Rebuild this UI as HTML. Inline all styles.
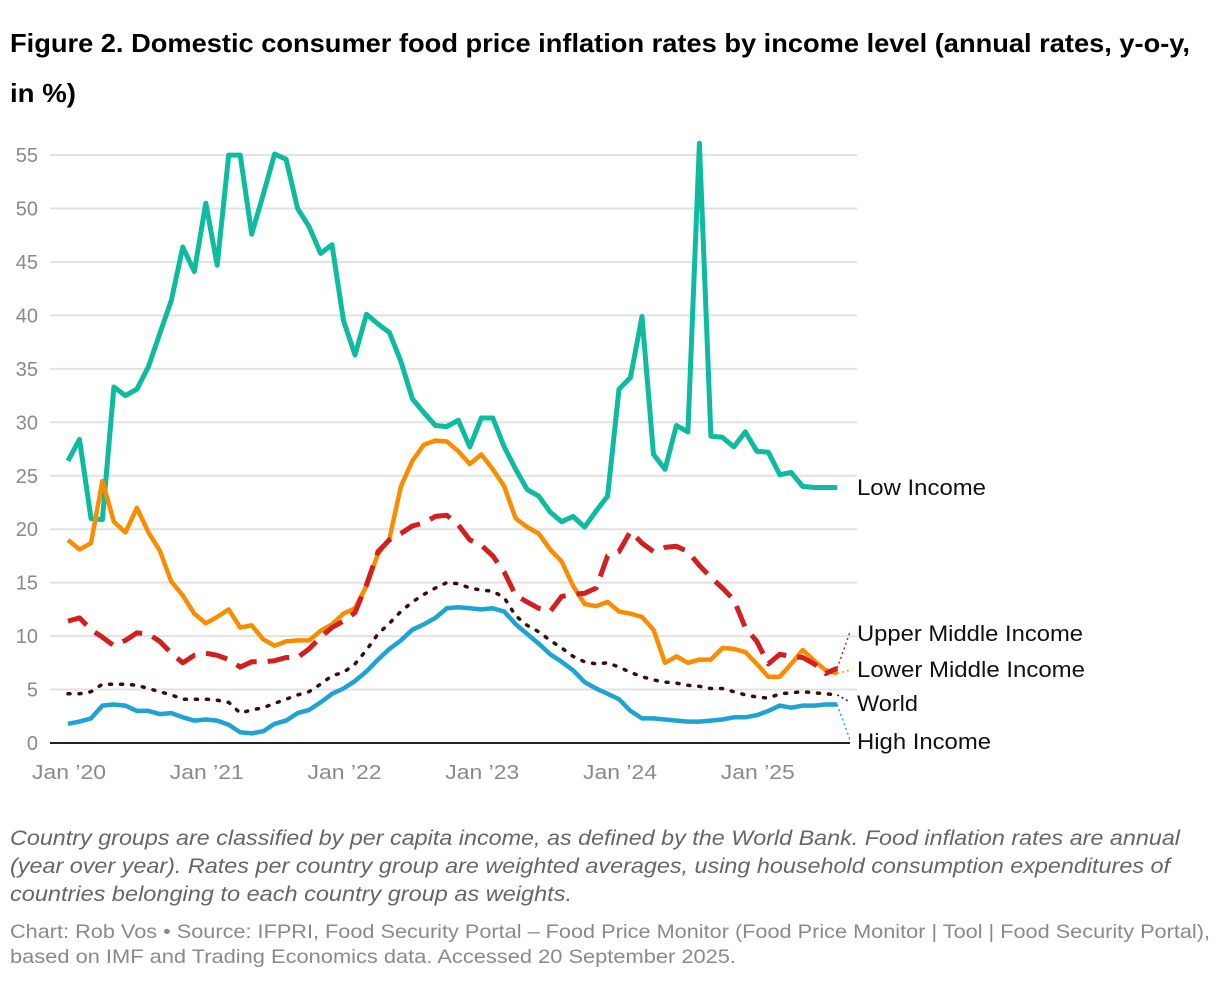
<!DOCTYPE html>
<html><head><meta charset="utf-8">
<style>
body{margin:0;background:#fff;width:1220px;height:982px;overflow:hidden;font-family:"Liberation Sans",Arial,sans-serif}
svg{position:absolute;left:0;top:0}
</style></head>
<body>
<svg id="chart" width="1220" height="982">
<text x="10" y="52" font-size="26" font-weight="bold" fill="#000" textLength="1180" lengthAdjust="spacingAndGlyphs">Figure 2. Domestic consumer food price inflation rates by income level (annual rates, y-o-y,</text>
<text x="10" y="102" font-size="26" font-weight="bold" fill="#000" textLength="66" lengthAdjust="spacingAndGlyphs">in %)</text>
<g id="grid"></g><g id="series"></g><g id="labels"></g>
<g font-size="21" font-style="italic" fill="#666">
<text x="10" y="845" textLength="1170" lengthAdjust="spacingAndGlyphs">Country groups are classified by per capita income, as defined by the World Bank. Food inflation rates are annual</text>
<text x="10" y="873" textLength="1160" lengthAdjust="spacingAndGlyphs">(year over year). Rates per country group are weighted averages, using household consumption expenditures of</text>
<text x="10" y="901" textLength="562" lengthAdjust="spacingAndGlyphs">countries belonging to each country group as weights.</text>
</g>
<g font-size="19.5" fill="#8a8a8a">
<text x="10" y="938" textLength="1200" lengthAdjust="spacingAndGlyphs">Chart: Rob Vos • Source: IFPRI, Food Security Portal – Food Price Monitor (Food Price Monitor | Tool | Food Security Portal),</text>
<text x="10" y="963" textLength="726" lengthAdjust="spacingAndGlyphs">based on IMF and Trading Economics data. Accessed 20 September 2025.</text>
</g>
</svg>
<script>
const yTicks=[0,5,10,15,20,25,30,35,40,45,50,55];
const xTickLabels=["Jan ’20","Jan ’21","Jan ’22","Jan ’23","Jan ’24","Jan ’25"];
const xTickMonths=[0,12,24,36,48,60];
const lowIncome=[26.4,28.4,21.0,20.9,33.3,32.5,33.1,35.2,38.3,41.4,46.4,44.1,50.5,44.7,55,55,47.6,51.3,55.1,54.6,50.0,48.3,45.8,46.6,39.5,36.3,40.1,39.2,38.4,35.7,32.2,30.9,29.7,29.6,30.2,27.7,30.4,30.4,27.7,25.6,23.7,23.1,21.6,20.7,21.2,20.2,21.7,23.1,33.1,34.2,39.9,27.0,25.6,29.7,29.1,56.1,28.7,28.6,27.7,29.1,27.3,27.2,25.1,25.3,24.0,23.9,23.9,23.9];
const lowerMiddle=[19.0,18.1,18.7,24.5,20.7,19.7,22.0,19.7,18.0,15.1,13.8,12.1,11.2,11.8,12.5,10.8,11.0,9.7,9.1,9.5,9.6,9.6,10.5,11.1,12.1,12.6,14.7,17.7,19.1,24.0,26.4,27.9,28.3,28.2,27.3,26.1,27.0,25.6,24.0,21.0,20.2,19.6,18.1,17.0,14.7,13.0,12.8,13.2,12.3,12.1,11.8,10.6,7.5,8.1,7.5,7.8,7.8,8.9,8.8,8.5,7.4,6.2,6.2,7.4,8.7,7.7,6.8,6.5];
const upperMiddle=[11.4,11.7,10.6,9.9,9.1,9.6,10.3,10.2,9.5,8.4,7.5,8.2,8.4,8.2,7.8,7.1,7.6,7.6,7.7,8.0,8.0,8.8,9.9,10.8,11.4,12.2,14.8,17.9,19.0,19.6,20.3,20.6,21.2,21.3,20.4,19.0,18.5,17.5,16.0,13.8,13.2,12.6,12.3,13.7,13.9,14.0,14.5,17.5,17.9,19.8,18.7,17.9,18.3,18.4,17.9,16.6,15.5,14.5,13.4,10.8,9.5,7.4,8.3,8.1,8.0,7.4,6.5,7.0];
const world=[4.6,4.6,4.8,5.5,5.5,5.5,5.4,5.1,4.8,4.5,4.1,4.1,4.1,4.0,3.8,2.8,3.1,3.3,3.7,4.1,4.5,4.8,5.5,6.3,6.6,7.4,8.7,10.2,11.2,12.3,13.2,13.9,14.5,15.0,14.9,14.5,14.3,14.2,13.6,11.9,11.0,10.4,9.6,8.9,8.1,7.6,7.4,7.5,7.1,6.6,6.2,5.9,5.7,5.6,5.4,5.3,5.1,5.1,4.8,4.5,4.3,4.2,4.6,4.7,4.8,4.7,4.6,4.5];
const highIncome=[1.8,2.0,2.3,3.5,3.6,3.5,3.0,3.0,2.7,2.8,2.4,2.1,2.2,2.1,1.7,1.0,0.9,1.1,1.8,2.1,2.8,3.1,3.8,4.6,5.1,5.8,6.7,7.8,8.8,9.6,10.6,11.1,11.7,12.6,12.7,12.6,12.5,12.6,12.3,11.1,10.2,9.3,8.3,7.6,6.8,5.7,5.1,4.6,4.1,3.0,2.3,2.3,2.2,2.1,2.0,2.0,2.1,2.2,2.4,2.4,2.6,3.0,3.5,3.3,3.5,3.5,3.6,3.6];
const seriesNames=["Low Income","Upper Middle Income","Lower Middle Income","World","High Income"];

const NS="http://www.w3.org/2000/svg";
const X=m=>68+m*11.48;
const Y=v=>743-v*10.69;
function mk(tag,attrs,parent){const e=document.createElementNS(NS,tag);for(const k in attrs)e.setAttribute(k,attrs[k]);parent.appendChild(e);return e;}
const grid=document.getElementById('grid'),ser=document.getElementById('series'),lab=document.getElementById('labels');
yTicks.forEach(v=>{
  if(v>0){const l=mk('line',{x1:50,x2:857,y1:Y(v),y2:Y(v),stroke:'#e2e2e2','stroke-width':2},grid);
  
  }
  const t=mk('text',{x:38,y:Y(v)+7,'text-anchor':'end','font-size':20,fill:'#8a8a8a'},grid);
  t.textContent=v;
  
  
});
const ax=mk('line',{x1:50,x2:850,y1:743,y2:743,stroke:'#222','stroke-width':2},grid);


xTickMonths.forEach((m,i)=>{
  const t=mk('text',{x:X(m)+1,y:779,'text-anchor':'middle','font-size':20,fill:'#8a8a8a',textLength:74,lengthAdjust:'spacingAndGlyphs'},grid);
  t.textContent=xTickLabels[i];
  
  
});
function line(data,color,dash,width,name,ext,lbl,lblY,tl){
  const d=data.map((v,i)=>(i?'L':'M')+X(i).toFixed(1)+','+Y(v).toFixed(1)).join(' ');
  const p=mk('path',{d:d,fill:'none',stroke:color,'stroke-width':width,'stroke-linejoin':'round','stroke-linecap':dash==='2 9'?'round':'butt'},ser);
  if(dash)p.setAttribute('stroke-dasharray',dash);
  
  
  const n=data.length-1;
  if(ext){const e=mk('line',{x1:X(n),y1:Y(data[n]),x2:850,y2:ext,stroke:color,'stroke-width':1.5,'stroke-dasharray':'2 3'},ser);
  
  }
  const t=mk('text',{x:857,y:lblY,'font-size':22,fill:'#111',textLength:tl,lengthAdjust:'spacingAndGlyphs'},lab);
  t.textContent=lbl;
  
  
}
line(lowIncome,'#0dbc9f',null,5,'low-income',null,seriesNames[0],495,129);
line(lowerMiddle,'#fa8c00',null,4.5,'lower-middle-income',670,seriesNames[2],677,228);
line(upperMiddle,'#d21f1f','22 11',5,'upper-middle-income',632,seriesNames[1],641,226);
line(world,'#3a0d0d','2 9',3.5,'world',702,seriesNames[3],711,61);
line(highIncome,'#1fa3d4',null,4.5,'high-income',740,seriesNames[4],749,134);
</script>
</body></html>
